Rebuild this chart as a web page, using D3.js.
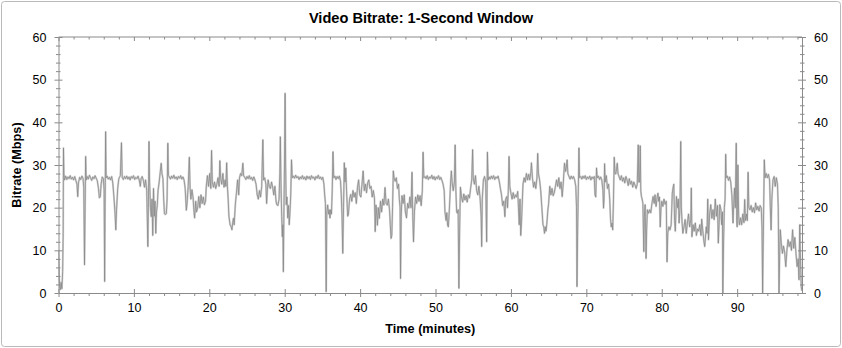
<!DOCTYPE html>
<html>
<head>
<meta charset="utf-8">
<script src="https://cdn.jsdelivr.net/npm/d3@7"></script>
<style>
  body { margin: 0; background: #fff; }
  svg { display: block; font-family: "Liberation Sans", Arial, sans-serif; }
  .axis path, .axis line { stroke: #8a8a8a; }
  .axis text { fill: #000; font-size: 12.5px; }
</style>
</head>
<body>
<svg id="chart" width="842" height="348"></svg>
<script>
// Video bitrate, 1-second window (minutes, Mbps)

const chartTitle = "Video Bitrate: 1-Second Window";
const xLabel = "Time (minutes)";
const yLabel = "Bitrate (Mbps)";

const xMajorTicks = [0, 10, 20, 30, 40, 50, 60, 70, 80, 90];
const yMajorTicks = [0, 10, 20, 30, 40, 50, 60];
const durationMin = 98.6;

// [minute, Mbps]
const samples = [
  [0,10],[0.08,4],[0.15,1.5],[0.25,0.8],[0.35,2.5],[0.45,1],[0.55,5],[0.62,14],[0.66,34],[0.72,28],[0.8,26.5],
  [0.95,27.4],[1.1,26.6],[1.25,27.2],[1.4,26.8],[1.55,27.5],[1.7,26.7],[1.85,27.1],[2.0,26.5],[2.15,27.3],[2.3,26.4],[2.45,25.5],[2.55,22.6],[2.65,25.8],[2.8,27.1],[2.95,26.6],[3.1,27.4],[3.25,26.9],[3.35,24.8],
  [3.45,6.6],[3.52,18],[3.6,32],[3.68,26.5],
  [3.8,27.3],[3.95,26.7],[4.1,27.6],[4.25,27.0],[4.4,26.4],[4.55,27.2],[4.7,26.8],[4.85,27.5],[5.0,26.9],[5.15,26.3],[5.3,24.5],[5.42,22.3],[5.55,22.6],[5.65,25.5],[5.8,27.2],[5.95,26.8],[6.05,24],[6.12,2.7],[6.18,20],[6.25,37.8],[6.32,27],
  [6.45,27.4],[6.6,26.7],[6.75,27.1],[6.9,26.5],[7.05,27.3],[7.2,25.8],[7.35,22.5],[7.5,18.5],[7.6,14.8],[7.7,19.5],[7.85,24.5],[8.0,26.8],[8.2,27.5],[8.35,35.2],[8.45,27.1],
  [8.6,26.6],[8.75,27.3],[8.9,26.8],[9.05,27.4],[9.2,26.7],[9.35,27.2],[9.5,26.5],[9.65,27.3],[9.8,26.9],[9.95,27.5],[10.1,26.6],[10.25,27.1],[10.4,26.8],[10.55,27.4],[10.7,26.5],[10.85,25],[10.95,26.8],[11.1,27.3],[11.25,26.4],[11.4,24.8],[11.55,26.5],[11.7,24],[11.85,10.9],[11.92,20],[12.0,35.5],[12.08,26],
  [12.2,20],[12.3,17.9],[12.4,22],[12.5,13.5],[12.6,24.5],[12.7,18],[12.8,21.5],[12.9,14],[13.0,19],[13.1,20.5],[13.2,24],[13.35,26],[13.5,28.5],[13.62,30.4],[13.72,28],[13.85,26.8],[13.95,22],[14.05,18.6],[14.15,18.4],[14.3,18.6],[14.4,22],[14.5,35.1],[14.58,27.5],
  [14.7,27.2],[14.85,26.7],[15.0,27.4],[15.15,26.9],[15.3,27.6],[15.45,26.8],[15.6,27.2],[15.75,26.6],[15.9,27.3],[16.05,26.9],[16.2,27.5],[16.35,26.7],[16.5,27.2],[16.65,26.5],[16.8,24.5],[16.95,19.4],[17.05,21],[17.2,25],[17.35,31.8],[17.45,24.6],
  [17.55,22],[17.7,24.2],[17.85,22.3],[17.95,19.5],[18.05,17.6],[18.2,21.5],[18.3,19],[18.45,19.9],[18.6,22.6],[18.75,20],[18.9,23],[19.05,21],[19.2,22.5],[19.35,20.7],[19.5,21.5],[19.6,25],[19.75,27.5],[19.9,25],[20.05,28],[20.2,24.5],[20.3,33.4],[20.4,26],[20.55,24.8],[20.7,26],[20.85,24.5],[21.0,25.5],[21.15,27],[21.3,25],[21.4,31],[21.5,27],[21.65,25.5],[21.8,28],[21.95,24.8],[22.1,26.5],[22.2,25],[22.3,30.5],[22.4,25],[22.5,22],[22.6,18],[22.75,16],[22.9,15.5],[23.0,14.8],[23.1,16.5],[23.2,17.5],[23.3,16],[23.45,20.7],[23.6,23.5],[23.75,26.5],[23.9,23],[24.0,27],[24.15,28],[24.3,27.5],[24.45,30.4],[24.55,27.5],
  [24.7,27.1],[24.85,26.6],[25.0,27.3],[25.15,26.8],[25.3,27.5],[25.45,26.7],[25.6,27.1],[25.75,26.4],[25.9,27.2],[26.05,26.5],[26.2,25.5],[26.35,23],[26.5,22],[26.65,24],[26.8,22.5],[26.95,25],[27.1,35.9],[27.2,26.5],[27.35,27],[27.5,25.5],[27.6,21],[27.7,24],[27.8,26.5],[27.95,25],[28.1,24.5],[28.25,26],[28.4,24.8],[28.55,23],[28.7,25],[28.85,21.5],[28.95,20.7],[29.1,20.5],[29.25,22],[29.35,28],[29.42,36.6],[29.5,26],[29.6,18],[29.68,13.2],[29.75,16],[29.82,5],[29.9,20],[29.97,30],[30.05,46.8],[30.12,30],[30.2,20.7],[30.3,22.5],[30.4,17.6],[30.5,20.5],[30.6,16],[30.7,19],[30.8,23],[30.9,31.2],[31.0,27],
  [31.15,27.4],[31.3,26.9],[31.45,27.6],[31.6,27.0],[31.75,27.3],[31.9,26.6],[32.05,27.2],[32.2,26.8],[32.35,27.5],[32.5,26.7],[32.65,27.2],[32.8,26.5],[32.95,27.4],[33.1,26.8],[33.25,27.3],[33.4,26.6],[33.55,27.5],[33.7,26.9],[33.85,27.2],[34.0,26.5],[34.15,27.3],[34.3,26.9],[34.45,27.6],[34.6,26.8],[34.75,27.2],[34.9,26.6],[35.05,27.1],[35.2,25.5],[35.3,23],[35.4,21],[35.5,0.3],[35.58,19],[35.7,20.6],[35.8,18.5],[35.9,19.5],[36.0,17.6],[36.1,19.5],[36.2,18.5],[36.3,24],[36.4,33.1],[36.5,27],[36.65,27.4],[36.8,26.6],[36.95,27.3],[37.1,26.8],[37.25,27.4],[37.4,26.2],[37.5,23],[37.6,18],[37.7,9.3],[37.8,20],[37.9,30.5],[38.0,26],[38.1,29.3],[38.2,24],[38.35,18],[38.45,18.5],
  [38.6,22],[38.75,23.1],[38.9,21.5],[39.05,24],[39.2,22.5],[39.35,23.5],[39.5,21],[39.65,24.8],[39.8,26.5],[39.95,23],[40.1,22.5],[40.25,25.5],[40.4,28.6],[40.55,24],[40.7,25.5],[40.85,23.5],[41.0,25.8],[41.15,26.5],[41.3,24.5],[41.45,25],[41.6,22.5],[41.75,24],[41.9,22.3],[42.0,14.4],[42.1,20.6],[42.2,18.5],[42.3,15.9],[42.4,20],[42.55,17.5],[42.7,21.5],[42.85,19],[43.0,22],[43.15,20.6],[43.3,24.7],[43.45,21],[43.6,20.6],[43.75,22],[43.9,19.5],[44.0,16],[44.1,12.8],[44.2,13.5],[44.3,20],[44.4,28.6],[44.5,27],[44.65,26.2],[44.8,27],[44.95,24.5],[45.1,25.5],[45.2,22],[45.3,20],[45.36,3.4],[45.45,18],[45.55,22.8],[45.7,21],[45.85,23],[46.0,19],[46.15,17.6],[46.3,21],[46.45,19.9],[46.6,22.5],[46.75,20],[46.88,28.3],[46.98,18],[47.08,12],[47.2,19],[47.35,22.5],[47.5,21],[47.65,23],[47.8,21.5],[47.95,22.8],[48.1,20.5],[48.25,24],[48.35,33],[48.45,27],
  [48.6,27.3],[48.75,26.8],[48.9,27.5],[49.05,26.6],[49.2,27.2],[49.35,26.9],[49.5,27.6],[49.65,26.7],[49.8,27.3],[49.95,26.5],[50.1,27.2],[50.25,26.8],[50.4,27.5],[50.55,26.6],[50.7,27.1],[50.85,26.4],[51.0,25.5],[51.15,24],[51.25,19],[51.4,17],[51.5,18.8],[51.6,15.9],[51.7,15.5],[51.8,18.5],[51.9,22],[52.0,26],[52.1,28.6],[52.2,26],[52.35,24],[52.5,26],[52.6,34.7],[52.7,24],[52.8,19],[52.9,18.7],[53.0,19.5],[53.1,1.1],[53.2,15],[53.3,24.8],[53.45,22.5],[53.6,21.3],[53.75,23.2],[53.9,21.8],[54.05,22.8],[54.2,21.3],[54.35,23],[54.5,22.3],[54.65,24.5],[54.8,26.5],[54.92,33.6],[55.0,27],[55.15,25.5],[55.3,27.5],[55.45,24],[55.6,23],[55.75,25],[55.9,22.5],[56.05,18],[56.12,10.9],[56.2,22],[56.35,26.5],[56.5,27.3],[56.65,26],[56.78,12],[56.88,33],[56.98,26.5],
  [57.1,27.2],[57.25,26.7],[57.4,27.4],[57.55,26.8],[57.7,27.5],[57.85,26.6],[58.0,27.2],[58.15,26.9],[58.3,27.4],[58.45,26.2],[58.6,24.5],[58.75,23],[58.9,20.5],[59.05,21.5],[59.2,17.9],[59.3,22],[59.45,22.6],[59.55,20],[59.65,24],[59.75,32],[59.85,25],[60.0,23.4],[60.15,22],[60.3,23.5],[60.45,22.2],[60.6,23],[60.75,22.5],[60.9,23.8],[61.0,20],[61.1,16],[61.2,22],[61.3,13.5],[61.4,16.5],[61.5,21],[61.6,25.5],[61.75,27],[61.9,26],[62.05,28],[62.2,26.5],[62.35,27.8],[62.5,26.5],[62.65,28.5],[62.72,30.5],[62.85,27],[63.0,24.8],[63.15,26],[63.3,24.5],[63.45,27],[63.55,32.7],[63.65,28],[63.8,26.5],[63.95,24],[64.1,20],[64.25,16],[64.35,15.5],[64.45,14],[64.55,15.5],[64.65,14.5],[64.75,16],[64.9,19.5],[65.0,21],[65.15,25],[65.3,23],[65.45,24.5],[65.6,22.8],[65.75,23.5],[65.9,25],[66.05,26.5],[66.2,25],[66.35,27],[66.5,24.5],[66.65,26],[66.8,22.6],[66.95,26],[67.1,30.4],[67.25,28.5],[67.35,29.5],[67.45,31.2],[67.55,28],[67.7,27.3],[67.85,26.7],[68.0,27.4],[68.15,26.8],[68.3,27.3],[68.45,26.5],[68.6,25],[68.7,20],[68.76,1.5],[68.85,15],[68.95,26],[69.02,34],[69.1,27],
  [69.25,27.3],[69.4,26.7],[69.55,27.4],[69.7,26.9],[69.85,27.5],[70.0,26.6],[70.15,27.2],[70.3,26.8],[70.45,27.4],[70.6,26.5],[70.75,27.2],[70.9,26.8],[71.05,27.3],[71.15,23],[71.25,22.5],[71.35,29.3],[71.45,27],[71.6,27.4],[71.75,26.6],[71.9,27.2],[72.05,26.5],[72.2,24],[72.28,19.9],[72.35,22],[72.42,30.3],[72.5,26],[72.65,27.5],[72.8,24.5],[72.95,25.5],[73.1,22],[73.2,17.5],[73.3,15.5],[73.4,16.4],[73.5,14.8],[73.6,22],[73.7,31.8],[73.8,28],[73.9,27.9],[74.0,29],[74.1,30.4],[74.2,28],[74.35,27.2],[74.5,26.5],[74.65,27.5],[74.8,26.2],[74.95,27],[75.1,25.8],[75.25,27.3],[75.4,26.5],[75.55,25.2],[75.7,26.8],[75.85,25.5],[76.0,26.2],[76.15,24.8],[76.3,26],[76.45,25.3],[76.6,24.5],[76.75,25.5],[76.88,34.7],[76.95,26],[77.05,26],[77.15,34.5],[77.22,24],[77.3,22.7],[77.4,22],[77.5,21],[77.62,9.7],[77.7,18],[77.8,20.7],[77.92,8.1],[78.0,15],[78.1,19.5],[78.25,18.7],[78.4,19.5],[78.55,18.8],[78.7,21],[78.85,22.6],[79.0,21],[79.1,23],[79.25,20.3],[79.4,22.6],[79.5,23.4],[79.6,21.5],[79.7,22.5],[79.8,15.5],[79.9,20],[80.0,21.5],[80.15,20.3],[80.3,22],[80.45,20.8],[80.6,21.5],[80.7,7.3],[80.8,14],[80.95,15.5],[81.1,14.8],[81.25,16],[81.4,23.4],[81.5,24.7],[81.6,25.5],[81.7,17],[81.8,14.5],[81.95,22.6],[82.1,20],[82.2,22],[82.3,16.4],[82.42,20],[82.52,35.5],[82.6,20],
  [82.7,16.4],[82.8,14],[82.95,15.5],[83.1,17.2],[83.25,14],[83.4,16.4],[83.55,18.5],[83.7,15.5],[83.85,17.2],[83.92,24.6],[84.0,13.2],[84.15,16],[84.3,14.5],[84.45,16.4],[84.6,13.5],[84.75,15],[84.9,14.5],[85.05,16],[85.2,13.5],[85.3,17.3],[85.45,14.5],[85.6,12],[85.7,10.9],[85.8,13],[85.9,15.5],[86.0,14],[86.1,22],[86.2,12.5],[86.35,18.5],[86.5,20.7],[86.65,17.5],[86.8,19.5],[86.95,17.2],[87.1,22],[87.25,18],[87.4,20.5],[87.5,11.7],[87.6,16],[87.7,20.7],[87.85,19.5],[87.95,16],[88.05,19],[88.1,0],[88.2,12],[88.3,20],[88.4,22],[88.48,32.5],[88.55,27],[88.7,27.4],[88.85,26.4],[89.0,27.2],[89.15,26],[89.3,23],[89.45,16.4],[89.55,21],[89.65,24.6],[89.75,20],[89.88,35.1],[89.95,17],[90.0,15.5],[90.1,30],[90.2,18],[90.3,16],[90.45,17.6],[90.6,16],[90.75,18.5],[90.9,16.5],[91.0,21.9],[91.1,17],[91.25,18.5],[91.35,17],[91.45,28.3],[91.55,20],[91.7,19.5],[91.85,20.5],[92.0,19],[92.15,20],[92.3,18.8],[92.45,21.1],[92.6,19.5],[92.75,20.3],[92.9,19.2],[93.05,20.5],[93.2,19.9],[93.3,15],[93.38,0],[93.48,15],[93.6,31.2],[93.7,27],[93.85,28],[94.0,27],[94.15,27.8],[94.3,26.5],[94.4,20],[94.5,14.8],[94.6,22],[94.75,26.5],[94.9,27.3],[95.05,25],[95.2,27],[95.35,25.5],[95.45,20],[95.55,0],[95.65,10],[95.72,14.8],[95.85,11.7],[96.0,9.3],[96.15,11],[96.3,9.5],[96.45,6.2],[96.6,10],[96.75,12.5],[96.9,10.9],[97.05,12],[97.2,10],[97.35,14.8],[97.5,10.5],[97.65,13],[97.8,9.3],[97.95,6.2],[98.1,8],[98.2,3.1],[98.3,16],[98.4,8],[98.5,1.5],[98.58,0.5]
];

const svg = d3.select("#chart");
const margin = { left: 58.5, right: 40, top: 37, bottom: 55 };
const W = 842, H = 348;

// outer frame
svg.append("rect")
  .attr("x", 1.5).attr("y", 1.5)
  .attr("width", W - 3).attr("height", H - 3)
  .attr("rx", 3)
  .attr("fill", "#fff")
  .attr("stroke", "#b9b9b9");

const x = d3.scaleLinear().domain([0, durationMin]).range([margin.left, W - margin.right]);
const y = d3.scaleLinear().domain([0, 60]).range([H - margin.bottom, margin.top]);

const xMinor = d3.range(0, durationMin, 2).filter(d => d % 10 !== 0);
const yMinor = d3.range(0, 60, 2).filter(d => d % 10 !== 0);

// the series
svg.append("clipPath").attr("id", "plot-clip")
  .append("rect")
  .attr("x", x(0)).attr("y", y(60))
  .attr("width", x(durationMin) - x(0)).attr("height", y(0) - y(60));

const line = d3.line().x(d => x(d[0])).y(d => y(d[1]));

svg.append("path")
  .datum(samples)
  .attr("clip-path", "url(#plot-clip)")
  .attr("fill", "none")
  .attr("stroke", "#d3d3d3")
  .attr("stroke-width", 2)
  .attr("stroke-linejoin", "round")
  .attr("d", line);

svg.append("path")
  .datum(samples)
  .attr("clip-path", "url(#plot-clip)")
  .attr("fill", "none")
  .attr("stroke", "#858585")
  .attr("stroke-width", 0.75)
  .attr("stroke-linejoin", "round")
  .attr("d", line);

// axes: major ticks cross the frame, minor ticks are short
function addAxis(gen, transform, values, size, withLabels) {
  const g = svg.append("g")
    .attr("class", "axis")
    .attr("transform", transform)
    .call(gen.tickValues(values).tickSizeInner(size).tickSizeOuter(0).tickPadding(6)
      .tickFormat(withLabels ? d3.format("d") : ""));
  if (!withLabels) g.select(".domain").remove();
  return g;
}

const bottomY = `translate(0,${y(0)})`;
const topY = `translate(0,${y(60)})`;
const leftX = `translate(${x(0)},0)`;
const rightX = `translate(${x(durationMin)},0)`;

addAxis(d3.axisBottom(x), bottomY, xMajorTicks, 4, true);
addAxis(d3.axisBottom(x), bottomY, xMajorTicks, -4, false);
addAxis(d3.axisBottom(x), bottomY, xMinor, 3, false);
addAxis(d3.axisTop(x), topY, xMajorTicks, -4, false);
addAxis(d3.axisTop(x), topY, xMinor, -2.5, false);
svg.append("line").attr("class", "axis")
  .attr("x1", x(0)).attr("x2", x(durationMin))
  .attr("y1", y(60)).attr("y2", y(60))
  .attr("stroke", "#8a8a8a");

const leftAxis = addAxis(d3.axisLeft(y), leftX, yMajorTicks, 4, true);
leftAxis.selectAll("text").attr("dx", "-2");
addAxis(d3.axisLeft(y), leftX, yMajorTicks, -4, false);
addAxis(d3.axisLeft(y), leftX, yMinor, 2.5, false);
addAxis(d3.axisLeft(y), leftX, yMinor, -2, false);

const rightAxis = addAxis(d3.axisRight(y), rightX, yMajorTicks, 4, true);
rightAxis.selectAll("text").attr("dx", "2");
addAxis(d3.axisRight(y), rightX, yMajorTicks, -4, false);
addAxis(d3.axisRight(y), rightX, yMinor, 2.5, false);
addAxis(d3.axisRight(y), rightX, yMinor, -2, false);

// titles
svg.append("text")
  .attr("x", W / 2).attr("y", 23)
  .attr("text-anchor", "middle")
  .attr("font-size", "14.6px")
  .attr("font-weight", "bold")
  .text(chartTitle);

svg.append("text")
  .attr("x", (x(0) + x(durationMin)) / 2).attr("y", 333)
  .attr("text-anchor", "middle")
  .attr("font-size", "12.7px")
  .attr("font-weight", "bold")
  .text(xLabel);

svg.append("text")
  .attr("transform", `translate(21,${(y(0) + y(60)) / 2}) rotate(-90)`)
  .attr("text-anchor", "middle")
  .attr("font-size", "12.7px")
  .attr("font-weight", "bold")
  .text(yLabel);
</script>
</body>
</html>
